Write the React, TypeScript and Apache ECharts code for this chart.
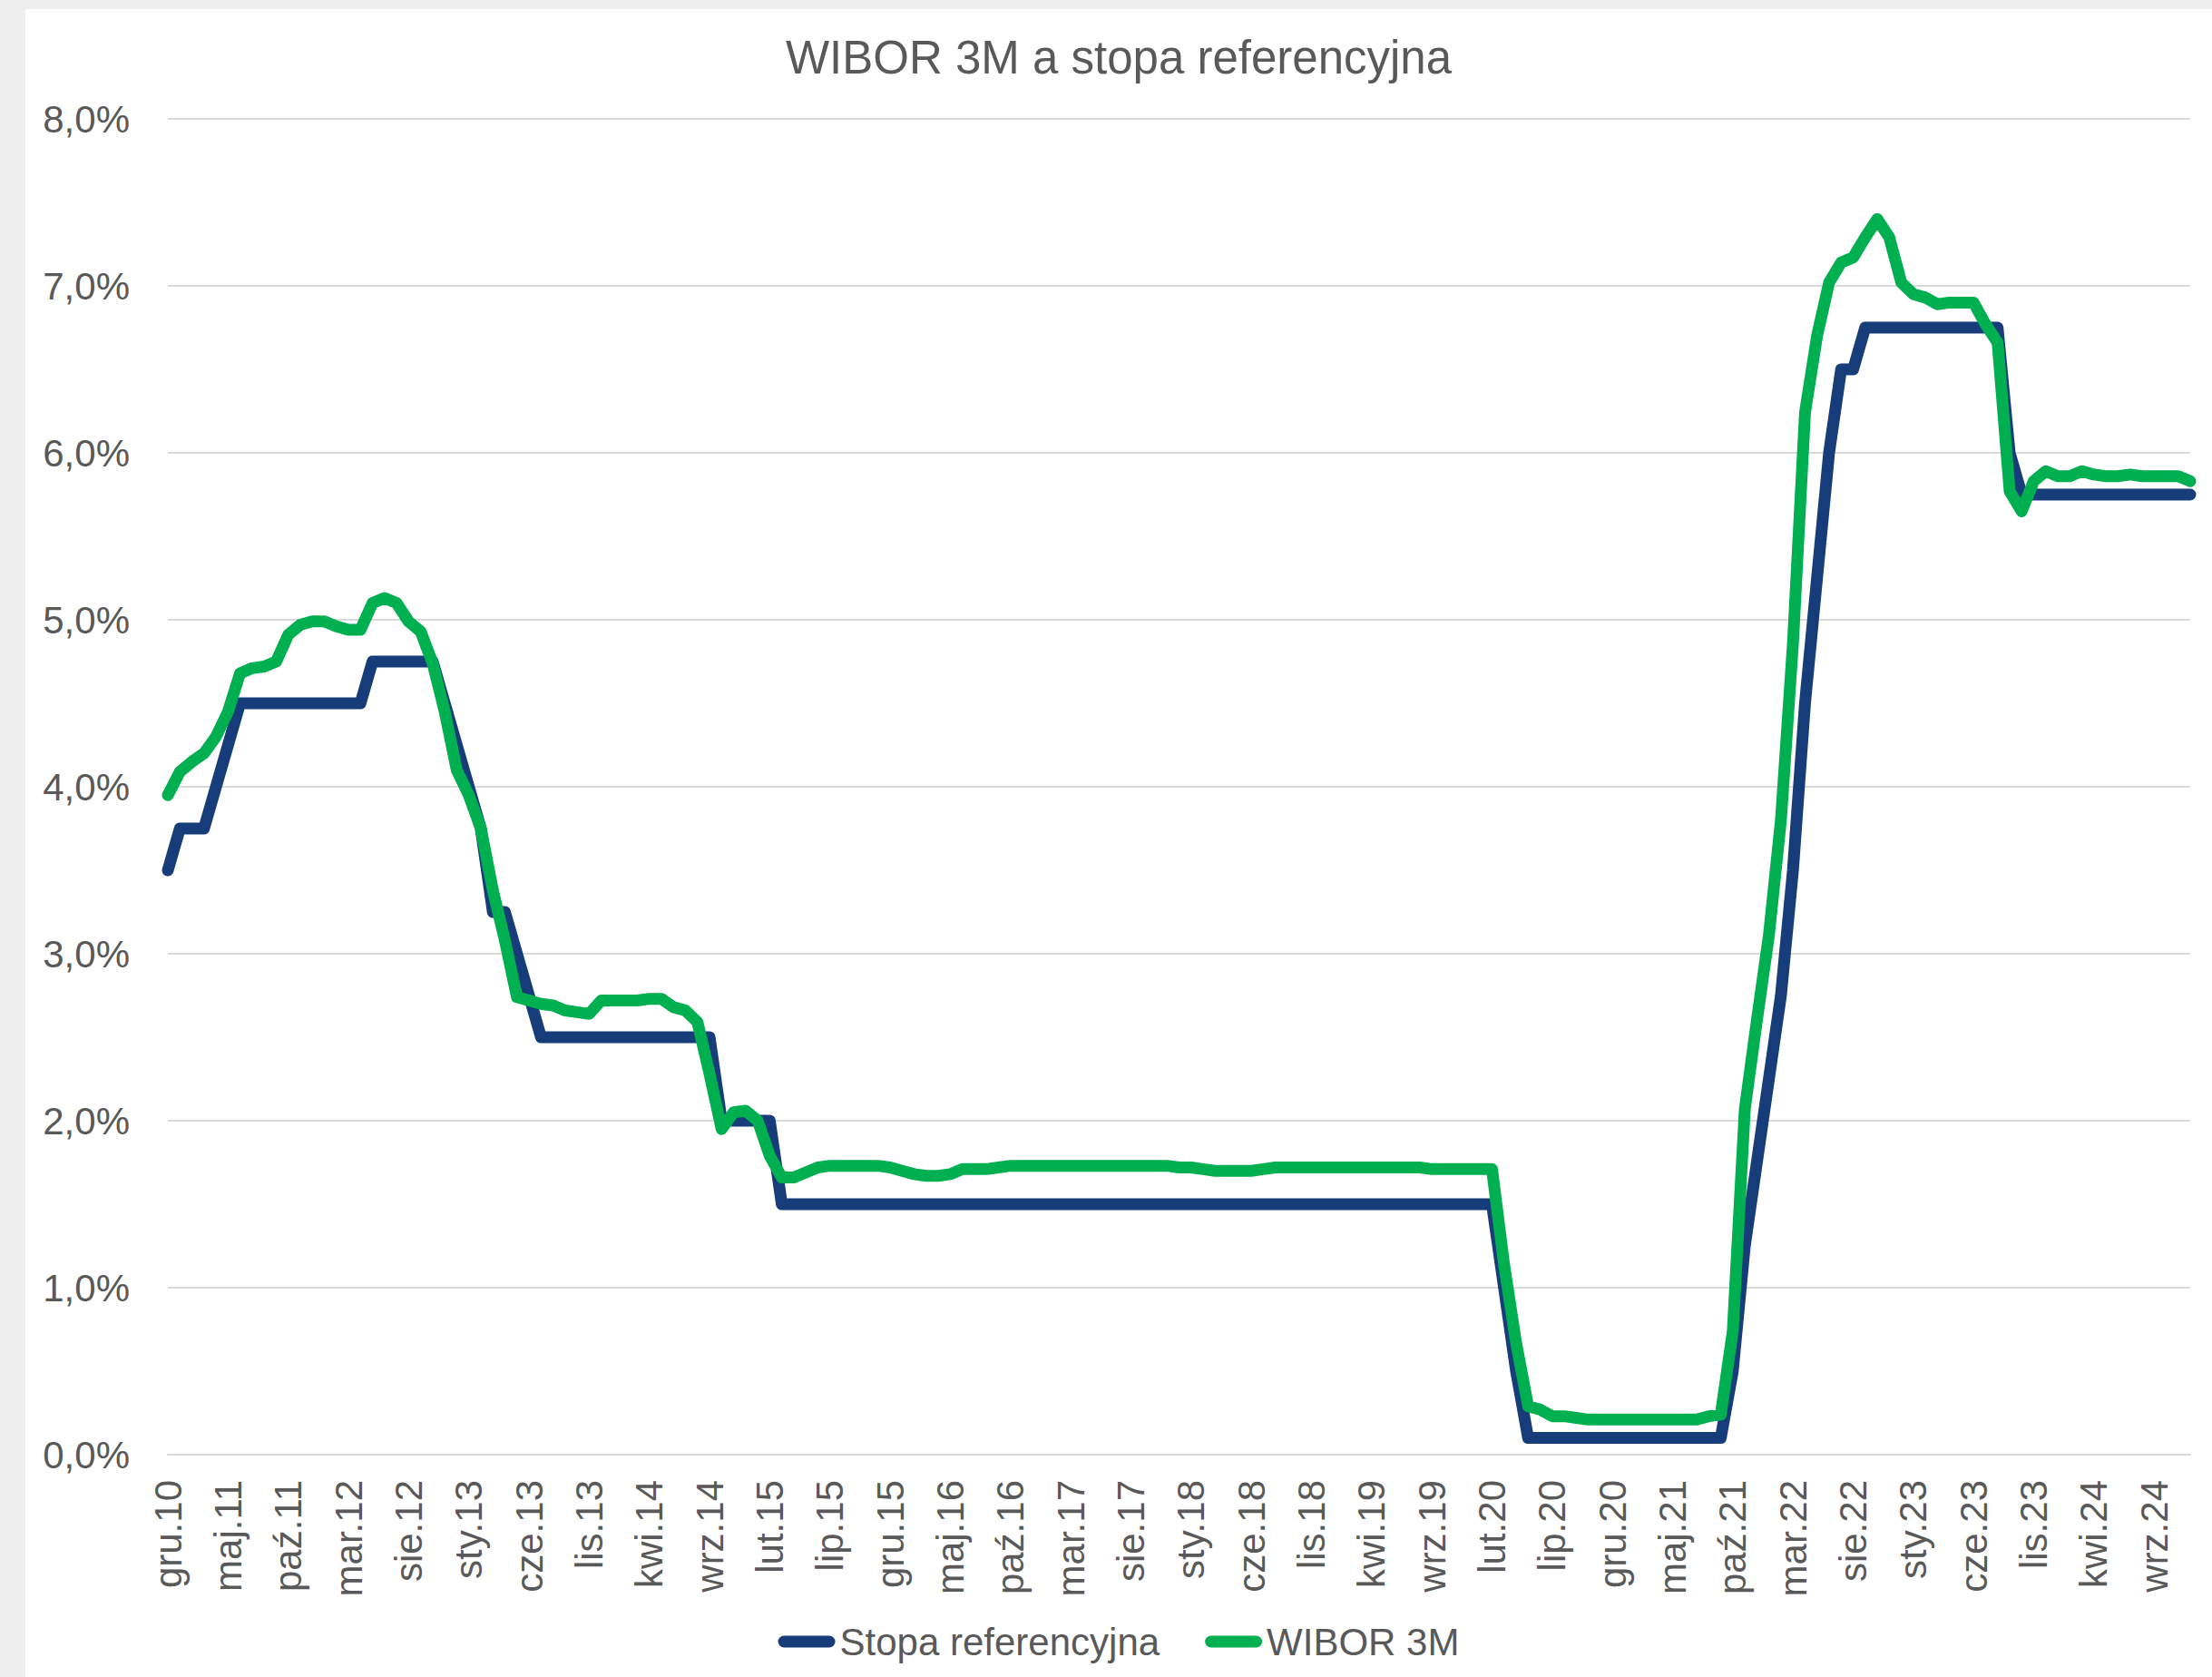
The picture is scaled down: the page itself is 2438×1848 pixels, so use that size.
import React, { useEffect, useRef } from 'react';
import * as echarts from 'echarts';

// Polish month abbreviations used on the category axis
const MONTHS = ['sty', 'lut', 'mar', 'kwi', 'maj', 'cze', 'lip', 'sie', 'wrz', 'paź', 'lis', 'gru'];
const START_YEAR = 2010;
const START_MONTH = 11; // December (0-based)
const N_MONTHS = 169; // gru.10 .. gru.24

const categories: string[] = [];
for (let i = 0; i < N_MONTHS; i++) {
  const t = START_MONTH + i;
  const y = START_YEAR + Math.floor(t / 12);
  categories.push(`${MONTHS[t % 12]}.${String(y % 100).padStart(2, '0')}`);
}

// NBP reference rate, % (monthly)
const stopaReferencyjna = [
  // 2010-12
  3.5,
  // 2011
  3.75, 3.75, 3.75, 4.0, 4.25, 4.5, 4.5, 4.5, 4.5, 4.5, 4.5, 4.5,
  // 2012
  4.5, 4.5, 4.5, 4.5, 4.75, 4.75, 4.75, 4.75, 4.75, 4.75, 4.5, 4.25,
  // 2013
  4.0, 3.75, 3.25, 3.25, 3.0, 2.75, 2.5, 2.5, 2.5, 2.5, 2.5, 2.5,
  // 2014
  2.5, 2.5, 2.5, 2.5, 2.5, 2.5, 2.5, 2.5, 2.5, 2.0, 2.0, 2.0,
  // 2015
  2.0, 2.0, 1.5, 1.5, 1.5, 1.5, 1.5, 1.5, 1.5, 1.5, 1.5, 1.5,
  // 2016
  1.5, 1.5, 1.5, 1.5, 1.5, 1.5, 1.5, 1.5, 1.5, 1.5, 1.5, 1.5,
  // 2017
  1.5, 1.5, 1.5, 1.5, 1.5, 1.5, 1.5, 1.5, 1.5, 1.5, 1.5, 1.5,
  // 2018
  1.5, 1.5, 1.5, 1.5, 1.5, 1.5, 1.5, 1.5, 1.5, 1.5, 1.5, 1.5,
  // 2019
  1.5, 1.5, 1.5, 1.5, 1.5, 1.5, 1.5, 1.5, 1.5, 1.5, 1.5, 1.5,
  // 2020
  1.5, 1.5, 1.0, 0.5, 0.1, 0.1, 0.1, 0.1, 0.1, 0.1, 0.1, 0.1,
  // 2021
  0.1, 0.1, 0.1, 0.1, 0.1, 0.1, 0.1, 0.1, 0.1, 0.5, 1.25, 1.75,
  // 2022
  2.25, 2.75, 3.5, 4.5, 5.25, 6.0, 6.5, 6.5, 6.75, 6.75, 6.75, 6.75,
  // 2023
  6.75, 6.75, 6.75, 6.75, 6.75, 6.75, 6.75, 6.75, 6.0, 5.75, 5.75, 5.75,
  // 2024
  5.75, 5.75, 5.75, 5.75, 5.75, 5.75, 5.75, 5.75, 5.75, 5.75, 5.75, 5.75,
];

// WIBOR 3M, % (monthly)
const wibor3M = [
  // 2010-12
  3.95,
  // 2011
  4.09, 4.15, 4.2, 4.3, 4.45, 4.68, 4.71, 4.72, 4.75, 4.91, 4.97, 4.99,
  // 2012
  4.99, 4.96, 4.94, 4.94, 5.1, 5.13, 5.1, 4.99, 4.93, 4.74, 4.45, 4.1,
  // 2013
  3.95, 3.75, 3.38, 3.08, 2.74, 2.72, 2.7, 2.69, 2.66, 2.65, 2.64, 2.72,
  // 2014
  2.72, 2.72, 2.72, 2.73, 2.73, 2.68, 2.66, 2.59, 2.28, 1.95, 2.05, 2.06,
  // 2015
  2.0, 1.79, 1.66, 1.66, 1.69, 1.72, 1.73, 1.73, 1.73, 1.73, 1.73, 1.72,
  // 2016
  1.7, 1.68, 1.67, 1.67, 1.68, 1.71, 1.71, 1.71, 1.72, 1.73, 1.73, 1.73,
  // 2017
  1.73, 1.73, 1.73, 1.73, 1.73, 1.73, 1.73, 1.73, 1.73, 1.73, 1.73, 1.72,
  // 2018
  1.72, 1.71, 1.7, 1.7, 1.7, 1.7, 1.71, 1.72, 1.72, 1.72, 1.72, 1.72,
  // 2019
  1.72, 1.72, 1.72, 1.72, 1.72, 1.72, 1.72, 1.72, 1.71, 1.71, 1.71, 1.71,
  // 2020
  1.71, 1.71, 1.14, 0.67, 0.29, 0.27, 0.23, 0.23, 0.22, 0.21, 0.21, 0.21,
  // 2021
  0.21, 0.21, 0.21, 0.21, 0.21, 0.21, 0.21, 0.23, 0.24, 0.74, 2.07, 2.6,
  // 2022
  3.11, 3.8, 4.86, 6.24, 6.7, 7.02, 7.14, 7.17, 7.29, 7.4, 7.29, 7.02,
  // 2023
  6.95, 6.93, 6.89, 6.9, 6.9, 6.9, 6.77, 6.66, 5.77, 5.65, 5.83, 5.89,
  // 2024
  5.86, 5.86, 5.89, 5.87, 5.86, 5.86, 5.87, 5.86, 5.86, 5.86, 5.86, 5.83,
];

const BLUE = '#173C7A';
const GREEN = '#00B050';
const TEXT = '#595959';
const GRID = '#D9D9D9';
const FONT = '"Liberation Sans", Arial, sans-serif';
const CAPSULE = 'path://M6.5,0H56.5A6.5,6.5,0,0,1,56.5,13H6.5A6.5,6.5,0,0,1,6.5,0Z';

export default function App() {
  const ref = useRef<HTMLDivElement>(null);

  useEffect(() => {
    document.body.style.margin = '0';
    if (!ref.current) return;
    const chart = echarts.init(ref.current, null, { renderer: 'svg' });
    chart.setOption({
      animation: false,
      backgroundColor: '#FFFFFF',
      textStyle: { fontFamily: FONT },
      title: {
        text: 'WIBOR 3M a stopa referencyjna',
        left: 'center',
        top: 23,
        textStyle: { fontSize: 51, fontWeight: 'normal', color: TEXT, fontFamily: FONT },
      },
      grid: { left: 157, right: 24, top: 121, bottom: 245, containLabel: false },
      legend: {
        top: 1773,
        left: 'center',
        itemWidth: 63,
        itemHeight: 13,
        itemGap: 50,
        icon: CAPSULE,
        textStyle: { fontSize: 42, color: TEXT, fontFamily: FONT },
        data: ['Stopa referencyjna', 'WIBOR 3M'],
      },
      xAxis: {
        type: 'category',
        data: categories,
        boundaryGap: false,
        axisLine: { show: true, lineStyle: { color: GRID, width: 2 } },
        axisTick: { show: false },
        splitLine: { show: false },
        axisLabel: {
          interval: 4,
          rotate: 90,
          margin: 28,
          fontSize: 42,
          color: TEXT,
          fontFamily: FONT,
        },
      },
      yAxis: {
        type: 'value',
        min: 0,
        max: 8,
        interval: 1,
        axisLine: { show: false },
        axisTick: { show: false },
        splitLine: { lineStyle: { color: GRID, width: 2 } },
        axisLabel: {
          margin: 42,
          fontSize: 42,
          color: TEXT,
          fontFamily: FONT,
          formatter: (v: number) => v.toFixed(1).replace('.', ',') + '%',
        },
      },
      series: [
        {
          name: 'Stopa referencyjna',
          type: 'line',
          data: stopaReferencyjna,
          showSymbol: false,
          symbol: 'none',
          color: BLUE,
          itemStyle: { color: BLUE },
          lineStyle: { width: 13, color: BLUE, cap: 'round', join: 'round' },
        },
        {
          name: 'WIBOR 3M',
          type: 'line',
          data: wibor3M,
          showSymbol: false,
          symbol: 'none',
          color: GREEN,
          itemStyle: { color: GREEN },
          lineStyle: { width: 13, color: GREEN, cap: 'round', join: 'round' },
        },
      ],
    });
    return () => chart.dispose();
  }, []);

  return (
    <div style={{ width: 2438, height: 1848, background: '#EEEEEE', position: 'relative', overflow: 'hidden' }}>
      <div
        ref={ref}
        style={{ position: 'absolute', left: 28, top: 10, width: 2410, height: 1838, background: '#FFFFFF' }}
      />
    </div>
  );
}
